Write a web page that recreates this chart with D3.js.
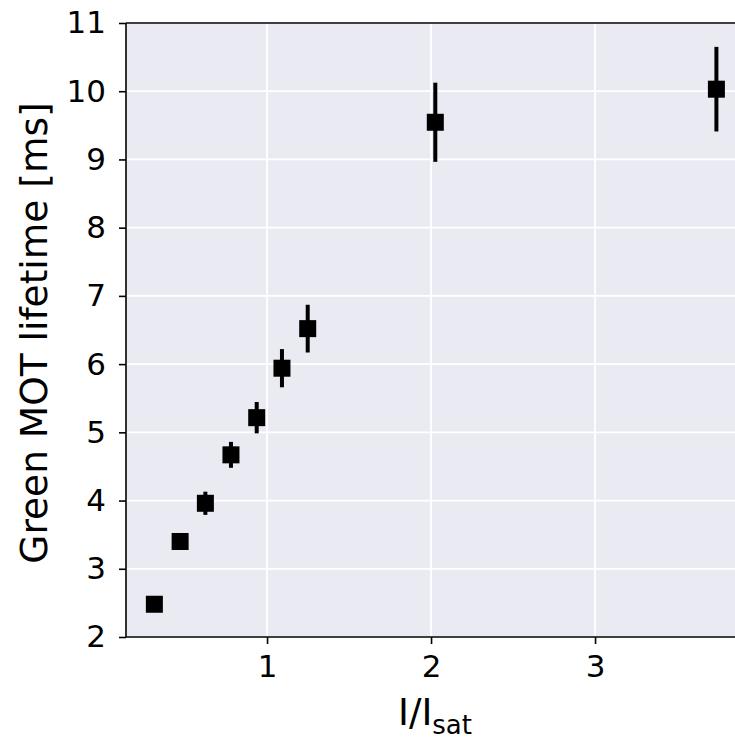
<!DOCTYPE html>
<html><head><meta charset="utf-8">
<script src="https://cdn.jsdelivr.net/npm/d3@7"></script>
<style>html,body{margin:0;padding:0;background:#fff;}svg{display:block;}</style>
</head><body>
<script>
const intensity = [0.313, 0.470, 0.624, 0.780, 0.937, 1.091, 1.248, 2.026, 3.740];
const lifetime  = [2.48, 3.40, 3.96, 4.67, 5.215, 5.94, 6.52, 9.545, 10.03];
const lifetimeErr = [0.0, 0.0, 0.17, 0.19, 0.23, 0.28, 0.35, 0.58, 0.62];
const xTicks = [1, 2, 3];
const yTicks = [2, 3, 4, 5, 6, 7, 8, 9, 10, 11];

(function () {
const W = 735, H = 740;
const pL = 126, pT = 23, pB = 637, pR = 744;
const svg = d3.select("body").append("svg").attr("width", W).attr("height", H);
const x = d3.scaleLinear().domain([0.14, 3.9]).range([pL, pL + (3.9 - 0.14) * 164]);
const y = d3.scaleLinear().domain([2, 11]).range([pB, pT]);
const font = "DejaVu Sans, sans-serif";

svg.append("rect").attr("x", pL).attr("y", pT).attr("width", pR - pL).attr("height", pB - pT).attr("fill", "#EAEAF2");
svg.append("g").selectAll("line").data(xTicks).join("line")
  .attr("x1", d => x(d)).attr("x2", d => x(d)).attr("y1", pT).attr("y2", pB)
  .attr("stroke", "#fff").attr("stroke-width", 1.8);
svg.append("g").selectAll("line").data(yTicks).join("line")
  .attr("x1", pL).attr("x2", pR).attr("y1", d => y(d)).attr("y2", d => y(d))
  .attr("stroke", "#fff").attr("stroke-width", 1.8);

const idx = intensity.map((v, i) => i);
svg.append("g").selectAll("line").data(idx).join("line")
  .attr("x1", i => x(intensity[i])).attr("x2", i => x(intensity[i]))
  .attr("y1", i => y(lifetime[i] - lifetimeErr[i])).attr("y2", i => y(lifetime[i] + lifetimeErr[i]))
  .attr("stroke", "#000").attr("stroke-width", 4);
const ms = 17;
svg.append("g").selectAll("rect").data(idx).join("rect")
  .attr("x", i => x(intensity[i]) - ms / 2).attr("y", i => y(lifetime[i]) - ms / 2)
  .attr("width", ms).attr("height", ms).attr("fill", "#000");

const xAxis = d3.axisBottom(x).tickValues(xTicks).tickSize(7).tickPadding(11).tickFormat(d3.format("d"));
const yAxis = d3.axisLeft(y).tickValues(yTicks).tickSize(7).tickPadding(13).tickFormat(d3.format("d"));
const gx = svg.append("g").attr("transform", `translate(0,${pB})`).call(xAxis);
const gy = svg.append("g").attr("transform", `translate(${pL},0)`).call(yAxis);
[gx, gy].forEach(g => {
  g.select(".domain").remove();
  g.selectAll(".tick line").attr("stroke", "#000").attr("stroke-width", 1.6);
  g.selectAll(".tick text").attr("font-family", font).attr("font-size", 31).attr("fill", "#000");
});
svg.append("line").attr("x1", pL).attr("x2", pL).attr("y1", pT).attr("y2", pB).attr("stroke", "#000").attr("stroke-width", 1.6);
svg.append("line").attr("x1", pL).attr("x2", pR).attr("y1", pB).attr("y2", pB).attr("stroke", "#000").attr("stroke-width", 1.6);
svg.append("line").attr("x1", pL).attr("x2", pR).attr("y1", pT).attr("y2", pT).attr("stroke", "#000").attr("stroke-width", 1.6);

svg.append("text").attr("transform", `translate(47,${(pT + pB) / 2 + 3}) rotate(-90)`)
  .attr("text-anchor", "middle").attr("font-family", font).attr("font-size", 37.5).attr("fill", "#000")
  .text("Green MOT lifetime [ms]");
const xl = svg.append("text").attr("x", 435).attr("y", 725).attr("text-anchor", "middle")
  .attr("font-family", font).attr("font-size", 37).attr("fill", "#000");
xl.append("tspan").text("I/I");
xl.append("tspan").attr("font-size", 26).attr("dy", 9).text("sat");
})();
</script>
</body></html>
